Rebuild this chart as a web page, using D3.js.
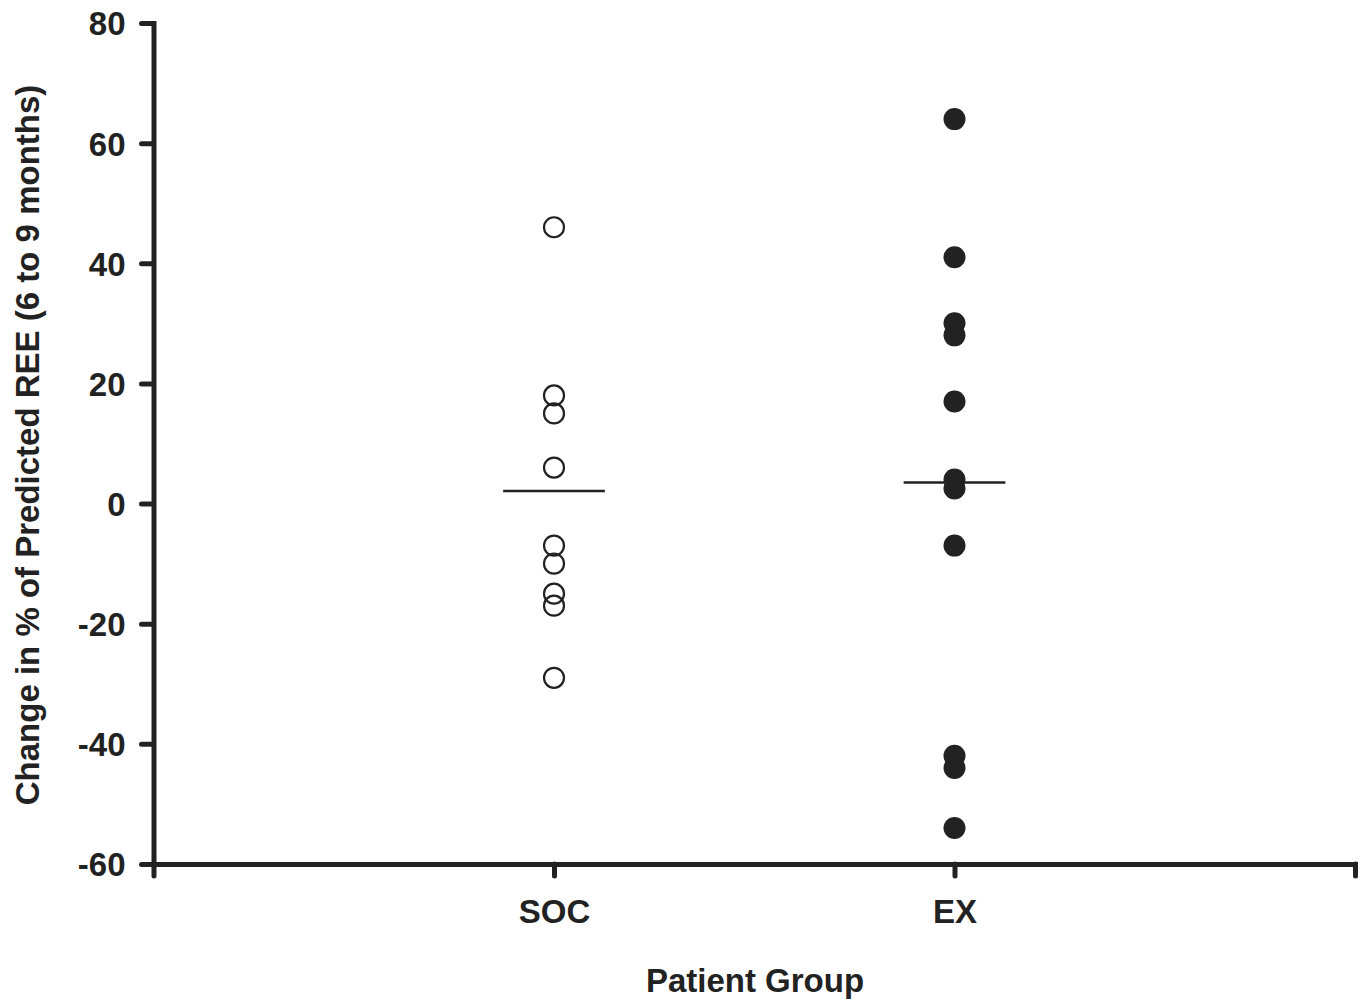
<!DOCTYPE html>
<html>
<head>
<meta charset="utf-8">
<script src="https://cdn.jsdelivr.net/npm/d3@7"></script>
<style>
  body { margin: 0; background: #fff; }
  svg { display: block; font-family: "Liberation Sans", Arial, sans-serif; font-weight: bold; }
  .axis path, .axis line { stroke: #222; stroke-width: 5; }
  .axis line { stroke-linecap: round; }
  .axis path { stroke-linecap: square; }
  .axis text { font-size: 33px; fill: #222; font-weight: bold; }
</style>
</head>
<body>
<div id="chart"></div>
<script>
// groups and their positions on the x axis
const groups = ["SOC", "EX"];
const groupPos = [1, 2];
const xTicks = [0, 1, 2, 3];

// change in % of predicted REE for each patient
const socValues = [46, 18, 15, 6, -7, -10, -15, -17, -29];
const exValues = [64, 41, 30, 28, 17, 4, 2.5, -7, -42, -44, -54];

// horizontal line drawn for each group
const centerLines = [2.1, 3.5];

const yTicks = [-60, -40, -20, 0, 20, 40, 60, 80];

const width = 1363, height = 1002;

const svg = d3.select("#chart")
  .append("svg")
  .attr("width", width)
  .attr("height", height);

// scales
const xScale = d3.scaleLinear().domain([0, 3]).range([153.5, 1355]);
const yScale = d3.scaleLinear().domain([-60, 80]).range([864, 23]);

// y axis (plain hyphen for negatives, as in the original)
svg.append("g")
  .attr("class", "axis")
  .attr("transform", "translate(" + xScale(0) + ",0)")
  .call(d3.axisLeft(yScale)
    .tickValues(yTicks)
    .tickSize(12)
    .tickSizeOuter(0)
    .tickPadding(16)
    .tickFormat(d => String(d)))
  .call(g => g.selectAll("text").attr("dy", "0.36em"));

// x axis, labels only at the two groups
svg.append("g")
  .attr("class", "axis")
  .attr("transform", "translate(0," + yScale(-60) + ")")
  .call(d3.axisBottom(xScale)
    .tickValues(xTicks)
    .tickSize(12)
    .tickSizeOuter(0)
    .tickPadding(24)
    .tickFormat(d => {
      const i = groupPos.indexOf(d);
      return i >= 0 ? groups[i] : "";
    }));

// group center lines
svg.selectAll(".center-line")
  .data(centerLines)
  .enter()
  .append("line")
  .attr("class", "center-line")
  .attr("x1", (d, i) => xScale(groupPos[i] - 0.127))
  .attr("x2", (d, i) => xScale(groupPos[i] + 0.127))
  .attr("y1", d => yScale(d))
  .attr("y2", d => yScale(d))
  .attr("stroke", "#222")
  .attr("stroke-width", 2.5);

// SOC: open circles
svg.selectAll(".soc")
  .data(socValues)
  .enter()
  .append("circle")
  .attr("class", "soc")
  .attr("cx", xScale(groupPos[0]))
  .attr("cy", d => yScale(d))
  .attr("r", 10)
  .attr("fill", "none")
  .attr("stroke", "#222")
  .attr("stroke-width", 2.2);

// EX: filled circles
svg.selectAll(".ex")
  .data(exValues)
  .enter()
  .append("circle")
  .attr("class", "ex")
  .attr("cx", xScale(groupPos[1]))
  .attr("cy", d => yScale(d))
  .attr("r", 11)
  .attr("fill", "#222");

// axis titles
svg.append("text")
  .attr("transform", "rotate(-90)")
  .attr("x", -445)
  .attr("y", 39)
  .attr("text-anchor", "middle")
  .attr("font-size", "33px")
  .attr("fill", "#222")
  .text("Change in % of Predicted REE (6 to 9 months)");

svg.append("text")
  .attr("x", 755)
  .attr("y", 992)
  .attr("text-anchor", "middle")
  .attr("font-size", "33px")
  .attr("fill", "#222")
  .text("Patient Group");
</script>
</body>
</html>
